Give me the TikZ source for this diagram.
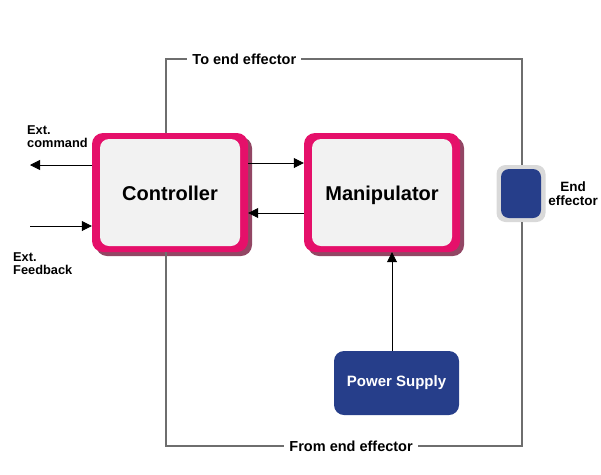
\documentclass[tikz,border=0pt]{standalone}
\usepackage{fontspec}
\setmainfont{Liberation Sans}
\usetikzlibrary{calc}
\usetikzlibrary{shadows}
\usetikzlibrary{arrows.meta}
\definecolor{framepink}{HTML}{E5106A}
\definecolor{shadowpink}{HTML}{6E0830}
\definecolor{boxgray}{HTML}{F2F2F2}
\definecolor{supplyblue}{HTML}{263E8A}
\definecolor{effgray}{HTML}{D9D9D9}
\definecolor{loopgray}{HTML}{6E6E6E}
\newcommand*{\bwd }{156pt}
\newcommand*{\bht }{119pt}
\newcommand*{\iwd }{140pt}
\newcommand*{\iht }{107pt}
\newcommand*{\bigfont}{\fontsize{20}{24}\selectfont}

\begin{document}
\begin{tikzpicture}[x=1pt, y=-1pt, font=\bfseries,
    outerbox/.style = {fill=framepink, rounded corners=11pt, minimum width=\bwd, minimum height=\bht,
                       drop shadow={shadow xshift=4pt, shadow yshift=-4pt, fill=shadowpink, opacity=0.75}},
    innerbox/.style = {fill=boxgray, rounded corners=9pt, minimum width=\iwd, minimum height=\iht,
                       text height=18pt, text depth=3pt, font=\bfseries\bigfont},
    link/.style     = {draw=black, line width=0.8pt, -{Triangle[length=10pt,width=10pt]}},
    loop/.style     = {draw=loopgray, line width=1.2pt},
    small/.style    = {font=\bfseries\fontsize{12.8}{13}\selectfont, align=left, inner sep=0pt},
    looplabel/.style = {fill=white, inner xsep=5pt, font=\bfseries\fontsize{14.5}{15}\selectfont}]
    \useasboundingbox (0,0) rectangle (601,474);

    % the two main blocks
    \node [outerbox] (ctrlframe)  at (170,192.5) {};
    \node [innerbox] (ctrl)       at (170,192.5) {Controller};
    \node [outerbox] (manipframe) at (382,192.5) {};
    \node [innerbox] (manip)      at (382,192.5) {Manipulator};

    % end effector and supply
    \node [fill=effgray, rounded corners=9pt, minimum width=49pt, minimum height=57pt] (effframe) at (521,193.5) {};
    \node [fill=supplyblue, rounded corners=8pt, minimum width=40pt, minimum height=49pt] (endeff) at (521,193.5) {};
    \node [align=center, font=\bfseries\fontsize{13.5}{14}\selectfont] (efflabel) at (573,194) {End\\effector};
    \node [fill=supplyblue, text=white, rounded corners=10pt, minimum width=125pt, minimum height=64pt,
           font=\bfseries\fontsize{15}{17}\selectfont] (power) at (396.5,383) {Power Supply};

    % feedback loop round the blocks
    \coordinate (topleft)  at (166,59);
    \coordinate (topright) at (522,59);
    \coordinate (botleft)  at (166,446);
    \coordinate (botright) at (522,446);
    \draw [loop] (ctrlframe.north -| topleft) -- (topleft) -- node [pos=0.22, looplabel] (tolabel) {To end effector}
          (topright) -- (effframe.north -| topright);
    \draw [loop] (ctrlframe.south -| botleft) -- (botleft) -- node [pos=0.52, looplabel] (fromlabel) {From end effector}
          (botright) -- (effframe.south -| botright);

    % signals
    \coordinate (cmdend) at (30,165);
    \coordinate (fbstart) at (30,226);
    \draw [link] (ctrlframe.west |- cmdend) -- (cmdend);
    \draw [link] (fbstart) -- (ctrlframe.west |- fbstart);
    \node [small, anchor=north west] (cmdlabel) at (27,125) {Ext.\\command};
    \node [small, anchor=north west] (fblabel)  at (13,252) {Ext.\\Feedback};
    \draw [link] ([yshift=29.5pt]ctrlframe.east) -- ([yshift=29.5pt]manipframe.west);
    \draw [link] ([yshift=-20.5pt]manipframe.west) -- ([yshift=-20.5pt]ctrlframe.east);
    \draw [link] (power.north -| 392,0) -- (manipframe.south -| 392,0);
\end{tikzpicture}
\end{document}
